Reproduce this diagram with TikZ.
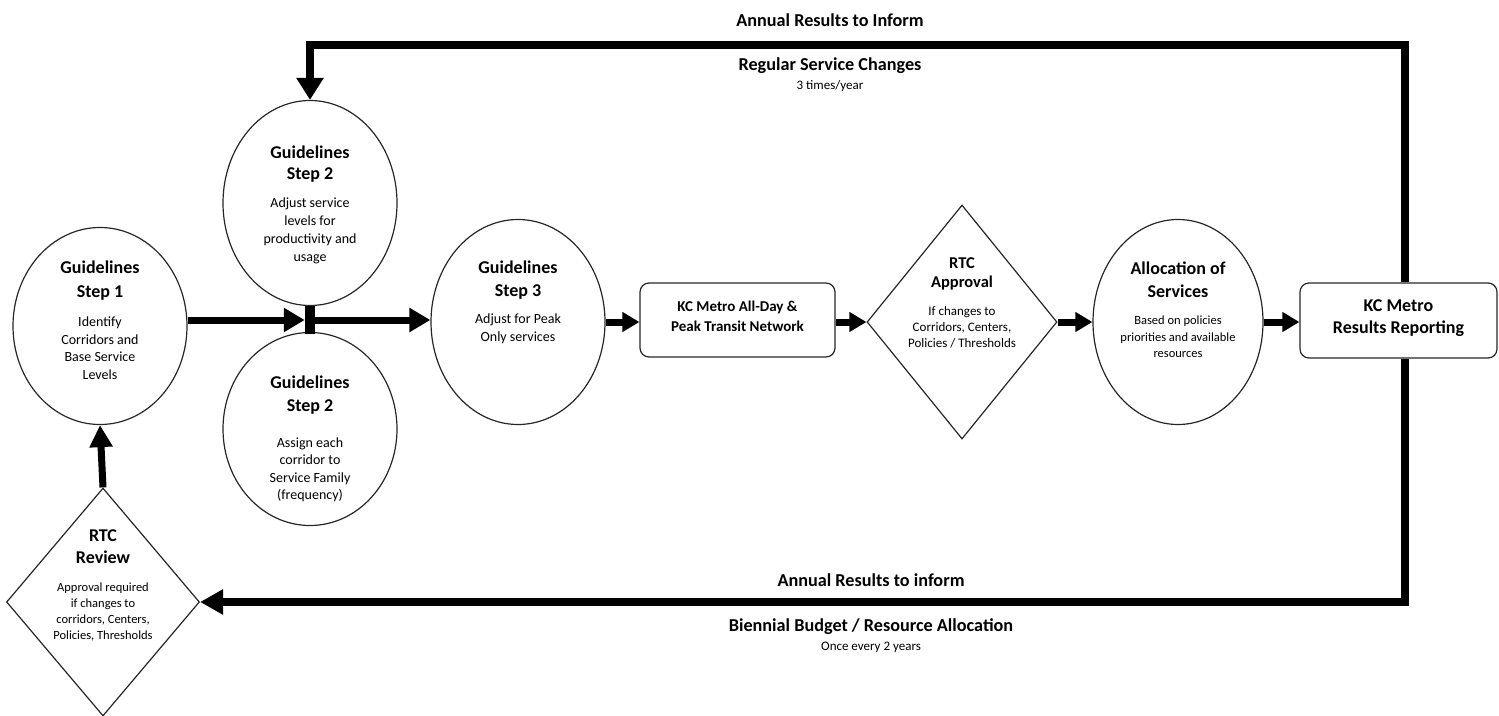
\documentclass[tikz,border=0pt]{standalone}
\usepackage{fontspec}
\setmainfont{Carlito}
\usetikzlibrary{shapes.geometric,arrows.meta}
\begin{document}
\begin{tikzpicture}[x=1pt,y=-1pt,
  outl/.style={draw=black!85, line width=1.2pt, inner sep=0pt},
  ell/.style={outl, ellipse, minimum width=174pt, minimum height=204pt},
  dia/.style={outl, diamond},
  rbox/.style={outl, rectangle, rounded corners=9pt},
  conn/.style={line width=7pt, -{Triangle[length=21pt,width=23pt]}},
  sconn/.style={line width=7pt, -{Triangle[length=17pt,width=19pt]}},
  loopline/.style={line width=8pt, line join=miter},
  ttl/.style={font=\fontsize{18}{23}\selectfont\bfseries, align=center, inner sep=0pt},
  mttl/.style={font=\fontsize{16}{20}\selectfont\bfseries, align=center, inner sep=0pt},
  desc/.style={font=\fontsize{14}{18}\selectfont, align=center, inner sep=0pt},
  sdesc/.style={font=\fontsize{12.5}{16.3}\selectfont, align=center, inner sep=0pt},
  lab/.style={font=\fontsize{18.2}{21}\selectfont\bfseries, inner sep=0pt},
  slab/.style={font=\fontsize{13}{16}\selectfont, inner sep=0pt}
]
\useasboundingbox (0,0) rectangle (1499,715);

% shapes
\node[ell, minimum height=197pt] (s1) at (100,326) {};
\node[ell, minimum height=205pt] (s2a) at (310,203) {};
\node[ell, minimum height=193pt] (s2b) at (310,429) {};
\node[fill=black, minimum width=10pt, minimum height=28pt, inner sep=0pt] (bar) at (310,320) {};
\node[ell, minimum height=205pt] (s3) at (518,322) {};
\node[rbox, minimum width=195pt, minimum height=74pt] (kc) at (737.5,320) {};
\node[dia, minimum width=190pt, minimum height=234pt] (rtca) at (962,322) {};
\node[ell, minimum width=170pt, minimum height=205pt] (alloc) at (1178,322) {};
\node[rbox, minimum width=197pt, minimum height=75pt] (res) at (1398.5,320.5) {};
\node[dia, minimum width=193pt, minimum height=228pt] (rtcr) at (103,602) {};

% texts
\node[ttl, font=\fontsize{18}{24}\selectfont\bfseries] (t1) at (100,281) {Guidelines\\Step 1};
\node[desc, font=\fontsize{14}{17.5}\selectfont] (d1) at (100,348) {Identify\\Corridors and\\Base Service\\Levels};
\node[ttl, font=\fontsize{18}{21}\selectfont\bfseries] (t2a) at (310,164) {Guidelines\\Step 2};
\node[desc] (d2a) at (310,231) {Adjust service\\levels for\\productivity and\\usage};
\node[ttl] (t2b) at (310,395) {Guidelines\\Step 2};
\node[desc, font=\fontsize{14}{17.5}\selectfont] (d2b) at (310,470) {Assign each\\corridor to\\Service Family\\(frequency)};
\node[ttl] (t3) at (518,280) {Guidelines\\Step 3};
\node[desc] (d3) at (518,329) {Adjust for Peak\\Only services};
\node[mttl, font=\fontsize{15}{20}\selectfont\bfseries] (tkc) at (737.5,316) {KC Metro All-Day \&\\Peak Transit Network};
\node[mttl, font=\fontsize{16.5}{19}\selectfont\bfseries] (ta) at (962,274) {RTC\\Approval};
\node[sdesc, font=\fontsize{13}{16}\selectfont] (da) at (962,327) {If changes to\\Corridors, Centers,\\Policies / Thresholds};
\node[ttl] (tal) at (1178,280) {Allocation of\\Services};
\node[sdesc, font=\fontsize{12.5}{16.5}\selectfont] (dal) at (1178,337) {Based on policies\\priorities and available\\resources};
\node[ttl, font=\fontsize{18}{22}\selectfont\bfseries] (tres) at (1398.5,318) {KC Metro\\Results Reporting};
\node[ttl, font=\fontsize{18}{22}\selectfont\bfseries] (tr) at (103,547) {RTC\\Review};
\node[sdesc] (dr) at (103,612) {Approval required\\if changes to\\corridors, Centers,\\Policies, Thresholds};

% loop labels
\node[lab] (l1) at (830,20) {Annual Results to Inform};
\node[lab] (l2) at (830,66) {Regular Service Changes};
\node[slab] (l3) at (830,86) {3 times/year};
\node[lab] (l4) at (871,580) {Annual Results to inform};
\node[lab] (l5) at (871,627) {Biennial Budget / Resource Allocation};
\node[slab] (l6) at (871,647) {Once every 2 years};

% connectors
\draw[conn] (s1.east |- bar.center) -- (bar.west);
\draw[conn] (bar.east) -- (s3.west |- bar.center);
\draw[sconn] (s3.east) -- (kc.west |- s3.east);
\draw[sconn] (kc.east |- rtca.west) -- (rtca.west);
\draw[sconn] (rtca.east) -- (alloc.west);
\draw[sconn] (alloc.east) -- (res.west |- alloc.east);

\coordinate (tr1) at (1405,45);
\coordinate (tl1) at (310,45);
\coordinate (br1) at (1405,602);
\draw[loopline, -{Triangle[length=22pt,width=26pt]}] (res.north -| tr1) -- (tr1) -- (tl1) -- (s2a.north);
\draw[loopline, -{Triangle[length=23pt,width=24pt]}] (res.south -| br1) -- (br1) -- (rtcr.east);
\draw[conn, -{Triangle[length=22pt,width=22pt]}] (rtcr.north) -- (s1.south);
\end{tikzpicture}
\end{document}
